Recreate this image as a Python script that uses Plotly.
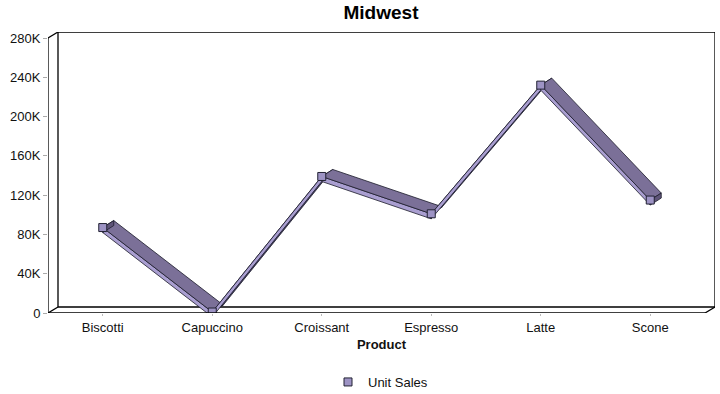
import plotly.graph_objects as go

categories = ["Biscotti", "Capuccino", "Croissant", "Espresso", "Latte", "Scone"]
unit_sales = [87000, 1000, 139000, 101000, 232000, 115000]
y_tick_vals = [0, 40000, 80000, 120000, 160000, 200000, 240000, 280000]
y_tick_text = ["0", "40K", "80K", "120K", "160K", "200K", "240K", "280K"]

W, H = 720, 394
# plot area covers the whole 3D box (front plane + depth)
L, R, T, B = 48, 5, 32, 81
DPX, DPY = 10, 6            # depth offset of the wall in pixels
front_w = W - L - R - DPX   # width of front plane
front_h = H - T - B - DPY   # height of front plane
n = len(categories)
ymax = 280000

px_x = n / front_w
px_y = ymax / front_h
DX = DPX * px_x
DY = DPY * px_y
RDX = 11 * px_x             # ribbon depth
RDY = 7 * px_y
FRONT = 5 * px_y            # ribbon front-face thickness

top_col = "#7b7098"
top_dark = "#4b4569"
front_col = "#a99ed0"
cap_col = "#5e5478"
edge = "#1a1a2a"

xs = list(range(n))
fig = go.Figure()

x0, x1 = -0.5, n - 0.5
line = dict(color="black", width=1.3)
shapes = [
    dict(type="rect", xref="x", yref="y", x0=x0 + DX, x1=x1 + DX, y0=DY, y1=ymax + DY, line=line, layer="below"),
    dict(type="line", xref="x", yref="y", x0=x0, x1=x0, y0=0, y1=ymax, line=line),
    dict(type="line", xref="x", yref="y", x0=x0, x1=x1, y0=0, y1=0, line=line),
    dict(type="line", xref="x", yref="y", x0=x0, x1=x0 + DX, y0=ymax, y1=ymax + DY, line=line),
    dict(type="line", xref="x", yref="y", x0=x0, x1=x0 + DX, y0=0, y1=DY, line=line),
    dict(type="line", xref="x", yref="y", x0=x1, x1=x1 + DX, y0=0, y1=DY, line=line),
]


def face(xv, yv, col):
    return go.Scatter(x=xv, y=yv, mode="lines", fill="toself", fillcolor=col,
                      line=dict(color=edge, width=0.8), hoverinfo="skip", showlegend=False)


for i in range(n - 1):
    xa, xb = xs[i], xs[i + 1]
    ya, yb = unit_sales[i], unit_sales[i + 1]
    front = face([xa, xb, xb, xa, xa], [ya, yb, yb - FRONT, ya - FRONT, ya], front_col)
    rising = yb > ya
    top = face([xa, xb, xb + RDX, xa + RDX, xa], [ya, yb, yb + RDY, ya + RDY, ya],
               top_dark if rising else top_col)
    if rising:
        fig.add_trace(top)
        fig.add_trace(front)
    else:
        fig.add_trace(front)
        fig.add_trace(top)

for i in [0, n - 1]:
    xa, ya = xs[i], unit_sales[i]
    fig.add_trace(face([xa, xa + RDX, xa + RDX, xa, xa],
                       [ya, ya + RDY, ya + RDY - FRONT, ya - FRONT, ya], cap_col))

fig.add_trace(go.Scatter(
    x=xs, y=unit_sales, mode="markers", name="Unit Sales",
    marker=dict(symbol="square", size=8, color="#9d93c4", line=dict(color="#222233", width=1)),
    hovertext=categories))

plot_h = H - T - B
fig.update_layout(
    width=W, height=H,
    margin=dict(l=L, r=R, t=T, b=B, autoexpand=False),
    paper_bgcolor="white", plot_bgcolor="rgba(0,0,0,0)",
    font=dict(family="Liberation Sans, Arial, sans-serif", size=13, color="#111111"),
    title=dict(text="<b>Midwest</b>", xref="container", x=381 / W, xanchor="center",
               yref="container", y=1 - 12 / H, yanchor="middle", font=dict(size=19, color="black")),
    showlegend=True,
    legend=dict(orientation="h", x=(328 - L) / (W - L - R), xanchor="left",
                y=-(382 - (H - B)) / plot_h, yanchor="middle", itemwidth=30,
                font=dict(size=13)),
    shapes=shapes,
    xaxis=dict(range=[x0, x1 + DX], tickvals=xs, ticktext=categories, showgrid=False, zeroline=False,
               showline=False, ticks="outside", ticklen=2, tickcolor="#bbbbbb", automargin=False,
               tickfont=dict(size=13),
               title=dict(text="<b>Product</b>", standoff=6, font=dict(size=13))),
    yaxis=dict(range=[0, ymax + DY], tickvals=y_tick_vals, ticktext=y_tick_text, showgrid=False,
               zeroline=False, showline=False, ticks="outside", ticklen=4, tickcolor="#aaaaaa",
               tickfont=dict(size=13), automargin=False),
)

fig.write_html("out.html", config={"displayModeBar": False},
               post_script="document.body.style.margin='0';document.body.style.padding='0';")
